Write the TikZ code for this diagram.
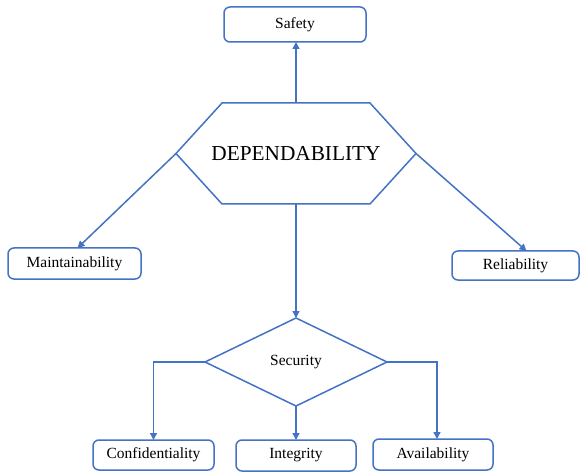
\documentclass[tikz,border=0pt]{standalone}
\usepackage{fontspec}
\setmainfont{Liberation Serif}
\usetikzlibrary{arrows.meta, shapes.geometric}
\definecolor{linkblue}{RGB}{68,114,196}

\begin{document}
\begin{tikzpicture}[x=1pt,y=-1pt,->,>={Triangle[length=7pt,width=7pt]},line width=1.5pt,
  every node/.style={font=\fontsize{15.5}{18}\selectfont,outer sep=0pt,inner sep=0pt},
  leaf/.style={draw=linkblue,rounded corners=6pt},
  link/.style={draw=linkblue}]
	\useasboundingbox (0,0) rectangle (581,473);
	\node[minimum width=240pt, minimum height=101pt,
	      font=\fontsize{21.3}{24}\selectfont] (dep) at (296,153.5) {DEPENDABILITY};
	% hexagon round the top node
	\draw[link,-] (dep.west) -- ([xshift=46pt]dep.north west) -- ([xshift=-46pt]dep.north east)
	  -- (dep.east) -- ([xshift=-46pt]dep.south east) -- ([xshift=46pt]dep.south west) -- cycle;
	\node[leaf, minimum width=142pt, minimum height=35pt] (safety) at (295,24.5)  {Safety};
	\node[leaf, minimum width=133pt, minimum height=31pt] (maint)  at (74.5,263.5) {Maintainability};
	\node[leaf, minimum width=127pt, minimum height=29pt] (rel)    at (515.5,265.5) {Reliability};
	\node[draw=linkblue, diamond, aspect=2, minimum width=182pt, minimum height=88pt] (sec) at (296,362) {Security};
	\node[leaf, minimum width=121pt, minimum height=30pt] (conf)   at (153.5,455) {Confidentiality};
	\node[leaf, minimum width=120pt, minimum height=31pt] (integ)  at (296,455.5) {Integrity};
	\node[leaf, minimum width=120pt, minimum height=31pt] (avail)  at (433,454.5) {Availability};
	% links
	\draw[link] (dep.north) -- (dep.north |- safety.south);
	\draw[link] (dep.west)  -- ([xshift=3pt]maint.north);
	\draw[link] (dep.east)  -- ([xshift=11pt]rel.north);
	\draw[link] (dep.south) -- (sec.north);
	\draw[link] (sec.west)  -| (conf.north);
	\draw[link] (sec.south) -- (integ.north);
	\draw[link] (sec.east)  -| ([xshift=4pt]avail.north);
\end{tikzpicture}
\end{document}
